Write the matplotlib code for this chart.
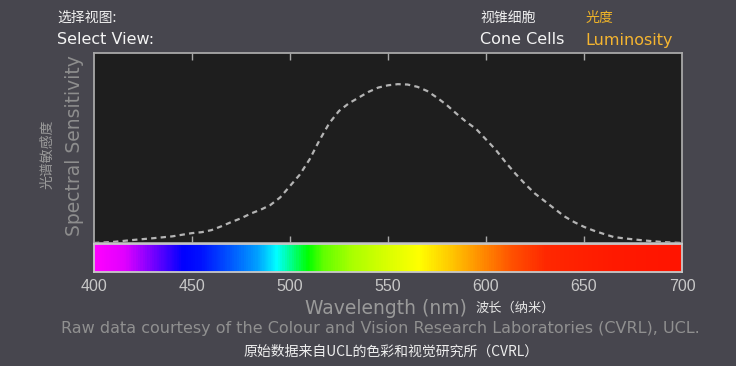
import numpy as np
import matplotlib
matplotlib.use("Agg")
import matplotlib.pyplot as plt
from matplotlib.colors import LinearSegmentedColormap

plt.rcParams["font.family"] = ["DejaVu Sans", "Noto Sans CJK SC"]

# ----------------------------------------------------------------------
# data
# ----------------------------------------------------------------------
wavelength = [400, 410, 420, 430, 440, 450, 455, 460, 465, 470, 475, 480, 485,
              490, 495, 500, 505, 510, 515, 520, 525, 530, 535, 540, 545, 550,
              555, 560, 565, 570, 575, 580, 585, 590, 595, 600, 605, 610, 615,
              620, 625, 630, 635, 640, 645, 650, 655, 660, 665, 670, 680, 690,
              700]
luminosity = [0.0, 0.006, 0.016, 0.025, 0.035, 0.052, 0.057, 0.068, 0.088,
              0.11, 0.13, 0.155, 0.175, 0.20, 0.24, 0.30, 0.36, 0.44, 0.54,
              0.63, 0.695, 0.735, 0.765, 0.795, 0.818, 0.830, 0.836, 0.834,
              0.822, 0.80, 0.765, 0.726, 0.68, 0.637, 0.60, 0.545, 0.49, 0.425,
              0.365, 0.31, 0.26, 0.22, 0.18, 0.14, 0.11, 0.085, 0.065, 0.048,
              0.032, 0.025, 0.014, 0.005, 0.0]

tick_values = [400, 450, 500, 550, 600, 650, 700]
tick_labels = ["400", "450", "500", "550", "600", "650", "700"]

spectrum_nm = [400, 415, 428, 445, 454, 471, 483, 493, 500, 509, 517, 531,
               549, 566, 580, 597, 614, 631, 665, 700]
spectrum_colors = ["#ff00ff", "#e000ff", "#8000ff", "#0000ff", "#0010ff",
                   "#0060ff", "#00a0ff", "#00ffff", "#00ff90", "#00ff00",
                   "#60ff00", "#a8ff00", "#d8ff00", "#ffff00", "#ffd000",
                   "#ff9000", "#ff5000", "#ff2800", "#ff1a00", "#ff1400"]

# ----------------------------------------------------------------------
# figure
# ----------------------------------------------------------------------
W, H = 736, 366
BG = "#47464e"
fig = plt.figure(figsize=(W / 100, H / 100), dpi=100, facecolor=BG)


def fx(px):
    return px / W


def fy(py):
    return 1 - py / H


# main plot panel
ax = fig.add_axes([fx(94), fy(243), fx(682) - fx(94), fy(53) - fy(243)])
ax.set_facecolor("#1e1e1e")
ax.plot(wavelength, luminosity, color="#b4b4b4", lw=1.6, ls=(0, (2.4, 1.9)))
ax.set_xlim(400, 700)
ax.set_ylim(0, 1)
ax.set_xticks(tick_values[1:-1])
ax.set_yticks([])
ax.tick_params(axis="x", direction="in", length=5, width=1, color="#a8a8a8",
               top=True, bottom=True, labelbottom=False)
for s in ax.spines.values():
    s.set_color("#a8a8a8")
    s.set_linewidth(1.3)

# spectrum bar
cmap = LinearSegmentedColormap.from_list(
    "spec", [((n - 400) / 300, c) for n, c in zip(spectrum_nm, spectrum_colors)])
axs = fig.add_axes([fx(94), fy(272), fx(682) - fx(94), fy(244) - fy(272)])
axs.imshow(np.linspace(0, 1, 600)[None, :], aspect="auto", cmap=cmap,
           extent=[400, 700, 0, 1])
axs.set_xlim(400, 700)
axs.set_yticks([])
axs.set_xticks(tick_values)
axs.set_xticklabels(tick_labels, family=["Liberation Sans", "DejaVu Sans"])
axs.tick_params(axis="x", length=0, pad=5, labelsize=11.5, labelcolor="#c8c8c8")
for s in axs.spines.values():
    s.set_color("#c8c8c8")
    s.set_linewidth(1.3)

# axis labels
fig.text(fx(75), fy(146), "Spectral Sensitivity", rotation=90, ha="center",
         va="center", fontsize=13.5, color="#8e8e8e")
fig.text(fx(47), fy(154), "光谱敏感度", rotation=90, ha="center", va="center",
         fontsize=10, color="#9a9a9a", family=["Noto Sans CJK SC"])
fig.text(fx(305), fy(308), "Wavelength (nm)", ha="left", va="center",
         fontsize=13.5, color="#9a9a9a")
fig.text(fx(476), fy(308), "波长（纳米）", ha="left", va="center",
         fontsize=9.5, color="#e6e6e6", family=["Noto Sans CJK SC"])

# credits
fig.text(fx(380), fy(329),
         "Raw data courtesy of the Colour and Vision Research Laboratories (CVRL), UCL.",
         ha="center", va="center", fontsize=11.5, color="#909090")
fig.text(fx(391), fy(352), "原始数据来自UCL的色彩和视觉研究所（CVRL）",
         ha="center", va="center", fontsize=10, color="#eeeeee",
         family=["Noto Sans CJK SC"])

# header
fig.text(fx(57), fy(18), "选择视图:", ha="left", va="center", fontsize=10,
         color="#f0f0f0", family=["Noto Sans CJK SC"])
fig.text(fx(57), fy(40), "Select View:", ha="left", va="center", fontsize=11.5,
         color="#f4f4f4")
fig.text(fx(480), fy(18), "视锥细胞", ha="left", va="center", fontsize=10,
         color="#f0f0f0", family=["Noto Sans CJK SC"])
fig.text(fx(480), fy(40), "Cone Cells", ha="left", va="center", fontsize=11.5,
         color="#f4f4f4")
fig.text(fx(586), fy(18), "光度", ha="left", va="center", fontsize=10,
         color="#f0b428", family=["Noto Sans CJK SC"])
fig.text(fx(585), fy(40), "Luminosity", ha="left", va="center", fontsize=11.5,
         color="#f5b530")

fig.savefig("out.png", dpi=100, facecolor=BG)
